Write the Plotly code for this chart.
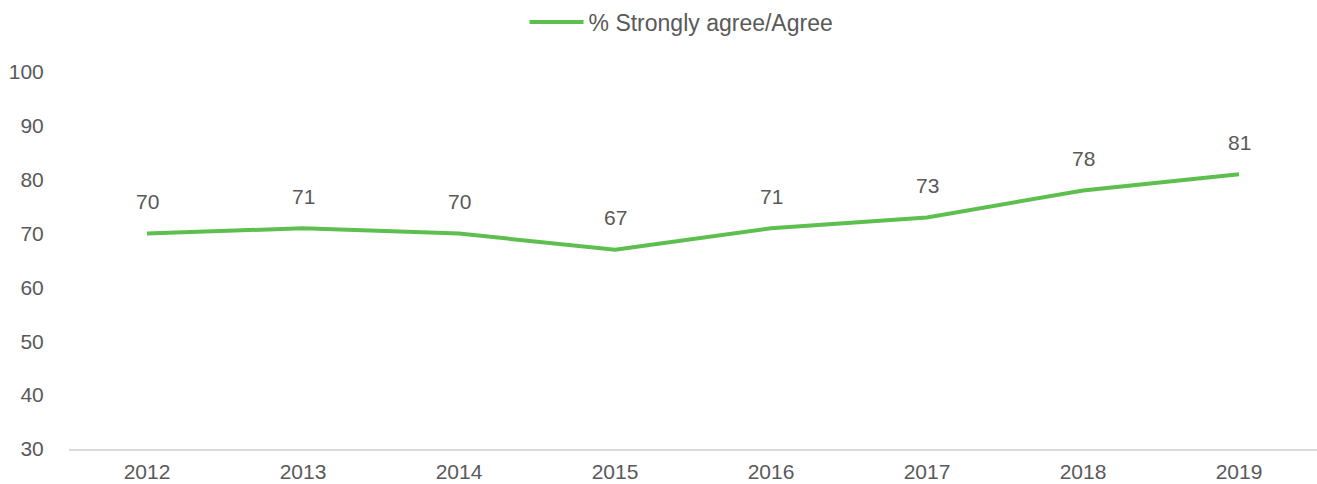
import plotly.graph_objects as go

# Survey results by year
years = ["2012", "2013", "2014", "2015", "2016", "2017", "2018", "2019"]
agree_pct = [70, 71, 70, 67, 71, 73, 78, 81]
series_name = "% Strongly agree/Agree"
y_ticks = [30, 40, 50, 60, 70, 80, 90, 100]

GREEN = "#5cbf4e"
TEXT = "#595959"
FONT = "Liberation Sans, Arial, Helvetica, sans-serif"

fig = go.Figure()
fig.add_trace(go.Scatter(
    x=years,
    y=agree_pct,
    mode="lines",
    name=series_name,
    line=dict(color=GREEN, width=4),
    hoverinfo="x+y",
))

# value labels above each point (category index keeps year strings from
# being read as numbers)
for i, v in enumerate(agree_pct):
    fig.add_annotation(
        x=i, y=v, xref="x", yref="y", text=str(v), showarrow=False,
        yshift=32, font=dict(family=FONT, size=21, color=TEXT),
    )

fig.update_layout(
    width=1317,
    height=484,
    margin=dict(l=69, r=0, t=72, b=35, autoexpand=False),
    paper_bgcolor="white",
    plot_bgcolor="white",
    font=dict(family=FONT, size=21, color=TEXT),
    showlegend=True,
    legend=dict(
        orientation="h",
        x=0.5175, xanchor="center", xref="container",
        y=1 - 22 / 484, yanchor="middle", yref="container",
        font=dict(family=FONT, size=23, color=TEXT),
        itemwidth=54,
    ),
    xaxis=dict(
        type="category",
        range=[-0.5, len(years) - 0.5],
        automargin=False,
        showgrid=False,
        showline=True,
        linecolor="#d9d9d9",
        linewidth=2,
        zeroline=False,
        ticks="outside",
        ticklen=3,
        tickcolor="rgba(0,0,0,0)",
        tickfont=dict(family=FONT, size=21, color=TEXT),
    ),
    yaxis=dict(
        range=[30, 100],
        tickvals=y_ticks,
        automargin=False,
        showgrid=False,
        showline=False,
        zeroline=False,
        ticks="outside",
        ticklen=20,
        tickcolor="rgba(0,0,0,0)",
        tickfont=dict(family=FONT, size=21, color=TEXT),
    ),
)

fig.write_html("out.html")
